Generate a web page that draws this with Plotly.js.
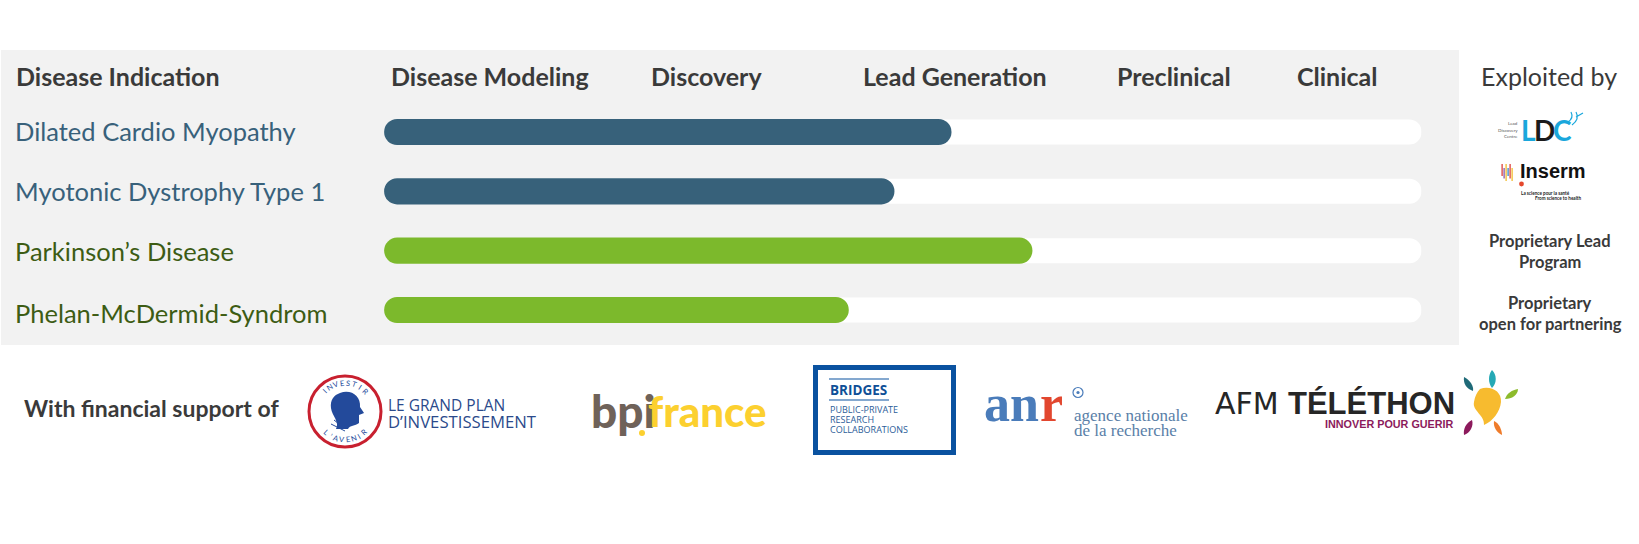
<!DOCTYPE html>
<html><head><meta charset="utf-8">
<script src="https://cdn.plot.ly/plotly-3.0.1.min.js"></script>
<style>html,body{margin:0;padding:0;background:#fff;overflow:hidden}#c{width:1639px;height:544px}</style>
</head><body><div id="c"></div>
<script>
const W = 1639, H = 544;
const diseases = ["Dilated Cardio Myopathy", "Myotonic Dystrophy Type 1", "Parkinson’s Disease", "Phelan-McDermid-Syndrom"];
const progress = [54.7, 49.2, 62.5, 44.8];
const stages = ["Disease Modeling", "Discovery", "Lead Generation", "Preclinical", "Clinical"];
const barColors = ["#37617a", "#37617a", "#7cb92c", "#7cb92c"];
const labelColors = ["#38617b", "#38617b", "#3d5c14", "#3d5c14"];
const stageX = [390, 650, 861.5, 1115.5, 1295.5];
const labelY = [131, 191, 251, 313];
const fullScale = 100, barStart = 0.01;

const FONT = "Lato, Carlito, sans-serif";
const px = x => x / W, py = y => 1 - y / H;
const annotations = [], shapes = [];
function text(t, x, y, size, color, o = {}) {
  annotations.push({ text: t, xref: "paper", yref: "paper", x: px(x), y: py(y), showarrow: false,
    xanchor: o.anchor || "left", yanchor: "middle", align: o.anchor === "center" ? "center" : "left",
    textangle: o.angle || 0, borderpad: 0,
    font: { family: o.family || FONT, size, color, weight: o.weight || 400, style: o.style || "normal" } });
}
function rect(x0, y0, x1, y1, fill, o = {}) {
  shapes.push({ type: "rect", xref: "paper", yref: "paper", x0: px(x0), x1: px(x1), y0: py(y0), y1: py(y1),
    fillcolor: fill, line: { width: o.lw || 0, color: o.lc || fill }, layer: o.layer || "above" });
}
function ellipse(cx, cy, rx, ry, fill, o = {}) {
  shapes.push({ type: "circle", xref: "paper", yref: "paper", x0: px(cx - rx), x1: px(cx + rx), y0: py(cy + ry), y1: py(cy - ry),
    fillcolor: fill, line: { width: o.lw || 0, color: o.lc || fill }, layer: "above" });
}
function path(d, fill, o = {}) {
  let isX = true;
  const conv = d.replace(/-?\d+(\.\d+)?/g, m => { const v = isX ? px(+m) : py(+m); isX = !isX; return v.toFixed(5); });
  shapes.push({ type: "path", xref: "paper", yref: "paper", path: conv, fillcolor: fill,
    line: { width: o.lw || 0, color: o.lc || fill }, layer: "above" });
}

// panel
rect(1, 50, 1459, 345, "#f2f2f2", { layer: "below" });

// headers and labels
text("<b>Disease Indication</b>", 14.5, 75.5, 25, "#3a3a3a");
stages.forEach((s, i) => text("<b>" + s + "</b>", stageX[i], 75.5, 25, "#3a3a3a"));
text("Exploited by", 1548.5, 75.5, 25, "#3a3a3a", { anchor: "center" });
diseases.forEach((d, i) => text(d, 14, labelY[i], 25.5, labelColors[i]));
text("<b>Proprietary Lead</b>", 1550, 240.5, 16.5, "#3a3a3a", { anchor: "center" });
text("<b>Program</b>", 1550, 261.5, 16.5, "#3a3a3a", { anchor: "center" });
text("<b>Proprietary</b>", 1550, 303, 16.5, "#3a3a3a", { anchor: "center" });
text("<b>open for partnering</b>", 1550, 323.5, 16.5, "#3a3a3a", { anchor: "center" });
text("<b>With financial support of</b>", 23, 408, 23, "#3a3a3a");

// LDC logo
text("<b>L</b>", 1520, 129.5, 28, "#1aa7dc");
text("<b>D</b>", 1533, 129.5, 28, "#1b1b1b");
text("<b>C</b>", 1552, 129.5, 28, "#1aa7dc");
text("Lead", 1519, 123.5, 4.5, "#555", { anchor: "right" });
text("Discovery", 1519, 130, 4.5, "#555", { anchor: "right" });
text("Centre", 1519, 136.5, 4.5, "#555", { anchor: "right" });
path("M1568 122 Q1574 118 1571 112 M1572 125 Q1580 119 1576 112 M1576 117 L1583 113", "rgba(0,0,0,0)", { lw: 1.2, lc: "#1aa7dc" });

// Inserm logo
text("<b>Inserm</b>", 1519, 171.5, 20, "#111", { family: "Liberation Sans" });
ellipse(1521.5, 184, 2.4, 2.4, "#e5482d");
["#d8322c", "#7e4aa0", "#f1b61c", "#2a7fc0", "#d8322c", "#f1b61c"].forEach((c, i) => rect(1501.5 + i * 2, 164 + (i % 2) * 4, 1502.7 + i * 2, 176 + (i % 3) * 2.5, c));
text("<b>La science pour la santé</b>", 1519.5, 193, 4.6, "#222");
text("<b>From science to health</b>", 1583, 198, 4.6, "#222", { anchor: "right" });

// Investir logo
ellipse(345, 411.5, 36, 35.5, "#fff", { lw: 3, lc: "#c8202f" });
path("M340 393 C351 389 361 396 360 407 L364 413 L359 415 L359 423 C355 426 350 425 348 429 L336 429 C340 422 332 416 331 408 C330 400 334 395 340 393 Z", "#234a9b");
path("M331 424 L345 431 M334 420 L343 427", "rgba(0,0,0,0)", { lw: 1, lc: "#234a9b" });
const arcText = (str, a0, a1, r, flip) => [...str].forEach((ch, i) => {
  const a = (a0 + (a1 - a0) * i / (str.length - 1)) * Math.PI / 180;
  text(ch, 345 + r * Math.sin(a), 411.5 - r * Math.cos(a), 7.5, "#234a9b", { anchor: "center", angle: (flip ? a * 180 / Math.PI + 180 : a * 180 / Math.PI) });
});
arcText("INVESTIR", -45, 45, 28.5, false);
arcText("L’AVENIR", 222, 138, 28.5, true);
text("LE GRAND PLAN", 387, 405, 15.5, "#2b4a8b", { family: "Open Sans" });
text("D’INVESTISSEMENT", 387, 421, 16.7, "#2b4a8b", { family: "Open Sans" });

// bpifrance logo
text("bpi", 589.5, 410, 46, "#6f6259", { weight: 900 });
text("france", 647, 411, 42, "#fcd02f", { weight: 900 });
ellipse(642, 433, 3, 3, "#fcd02f");

// BRIDGES logo
rect(815.5, 367.5, 953.5, 452.5, "#fff", { lw: 5, lc: "#0a52a0" });
rect(829, 378.5, 889, 379.5, "#0a52a0");
rect(829, 399.5, 889, 400.5, "#0a52a0");
text("<b>BRIDGES</b>", 828.5, 389.5, 13.5, "#0f4f97", { family: "Open Sans" });
["PUBLIC-PRIVATE", "RESEARCH", "COLLABORATIONS"].forEach((s, i) => text(s, 828.5, 409.5 + i * 10, 9, "#2c5d99", { family: "Open Sans" }));

// anr logo
text("<b>an</b>", 983, 403, 52, "#4a7cba", { family: "Liberation Serif" });
text("<b>r</b>", 1039, 403, 52, "#e2472f", { family: "Liberation Serif" });
ellipse(1078, 392.5, 5, 5, "#fff", { lw: 1.2, lc: "#4a7cba" });
ellipse(1078, 392.5, 1.6, 1.6, "#4a7cba");
text("agence nationale", 1073, 415, 17, "#5a80a8", { family: "Liberation Serif" });
text("de la recherche", 1073, 430, 17, "#5a80a8", { family: "Liberation Serif" });

// AFM Téléthon logo
text("AFM", 1214, 403, 30, "#262626", { family: "DejaVu Sans" });
text("<b>TÉLÉTHON</b>", 1287, 403, 31, "#262626", { family: "Liberation Sans" });
text("<b>INNOVER POUR GUERIR</b>", 1324, 424, 10.8, "#8c1a5c", { family: "Liberation Sans" });
path("M1480 389 C1490 385 1502 391 1501 402 C1500 412 1493 421 1484 425 C1485 415 1472 411 1474 402 C1475 396 1477 392 1480 389 Z", "#f7bb2f");
path("M1464 377 C1470 380 1474 386 1473 391 C1467 389 1463 384 1464 377 Z", "#1f6a78");
path("M1492 370 C1497 375 1497 383 1492 388 C1488 383 1488 375 1492 370 Z", "#25a9b5");
path("M1518 389 C1518 395 1512 399 1505 399 C1507 393 1512 390 1518 389 Z", "#8dbb2c");
path("M1494 421 C1499 423 1502 430 1502 435 C1497 433 1493 427 1494 421 Z", "#ef7c2b");
path("M1472 420 C1474 426 1470 433 1464 435 C1463 429 1466 423 1472 420 Z", "#8c1a5c");

const common = { type: "bar", orientation: "h", y: diseases, hoverinfo: "skip", showlegend: false };
const bases = diseases.map(() => barStart);
const data = [
  { ...common, x: diseases.map(() => fullScale - barStart), base: bases, width: 0.42, marker: { color: "#fff", cornerradius: 12.5 } },
  { ...common, x: progress.map(v => v - barStart), base: bases, width: 0.44, marker: { color: barColors, cornerradius: 13 } }
];
const layout = {
  width: W, height: H, margin: { l: 0, r: 0, t: 0, b: 0 }, paper_bgcolor: "#fff", plot_bgcolor: "rgba(0,0,0,0)",
  barmode: "overlay", showlegend: false, font: { family: FONT },
  xaxis: { domain: [384 / W, 1421.5 / W], range: [0, fullScale], visible: false, fixedrange: true },
  yaxis: { domain: [py(339.7), py(102.3)], type: "category", categoryorder: "array", categoryarray: diseases,
    range: [3.5, -0.5], visible: false, fixedrange: true },
  shapes, annotations
};
Plotly.newPlot("c", data, layout, { displayModeBar: false, staticPlot: true });
</script></body></html>
